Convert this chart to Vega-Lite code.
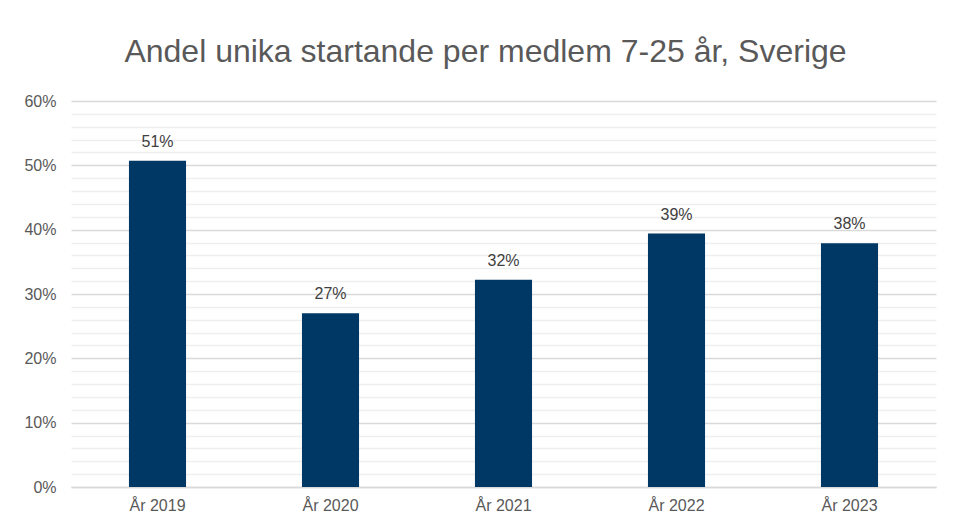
{
  "$schema": "https://vega.github.io/schema/vega-lite/v6.json",
  "width": 865,
  "height": 386,
  "autosize": {"type": "none"},
  "padding": {"left": 71, "top": 101, "right": 19, "bottom": 38},
  "background": "white",
  "config": {"view": {"stroke": null}, "font": "Liberation Sans"},
  "title": {
    "text": "Andel unika startande per medlem 7-25 år, Sverige",
    "fontSize": 32,
    "font": "Liberation Sans",
    "fontWeight": "normal",
    "color": "#595959",
    "anchor": "middle",
    "baseline": "alphabetic",
    "dx": -18,
    "offset": -1
  },
  "data": {
    "values": [
      {"year": "År 2019", "value": 0.507},
      {"year": "År 2020", "value": 0.270},
      {"year": "År 2021", "value": 0.322},
      {"year": "År 2022", "value": 0.394},
      {"year": "År 2023", "value": 0.379}
    ]
  },
  "encoding": {
    "x": {
      "field": "year",
      "type": "nominal",
      "sort": null,
      "scale": {"paddingInner": 0.67, "paddingOuter": 0.335},
      "axis": {
        "title": null,
        "labelAngle": 0,
        "labelFontSize": 16,
        "labelColor": "#595959",
        "labelPadding": 10,
        "ticks": false,
        "domain": true,
        "domainColor": "#d9d9d9",
        "domainWidth": 1.5
      }
    }
  },
  "layer": [
    {
      "mark": {"type": "bar", "opacity": 0},
      "encoding": {
        "y": {
          "field": "value",
          "type": "quantitative",
          "scale": {"domain": [0, 0.6]},
          "axis": {
            "orient": "left",
            "title": null,
            "values": [0.02, 0.04, 0.06, 0.08, 0.12, 0.14, 0.16, 0.18, 0.22, 0.24, 0.26, 0.28, 0.32, 0.34, 0.36, 0.38, 0.42, 0.44, 0.46, 0.48, 0.52, 0.54, 0.56, 0.58],
            "grid": true,
            "gridColor": "#efefef",
            "gridWidth": 1.5,
            "labels": false,
            "ticks": false,
            "domain": false
          }
        }
      }
    },
    {
      "mark": {"type": "bar", "color": "#003865"},
      "encoding": {
        "y": {
          "field": "value",
          "type": "quantitative",
          "scale": {"domain": [0, 0.6]},
          "axis": {
            "orient": "left",
            "title": null,
            "values": [0, 0.1, 0.2, 0.3, 0.4, 0.5, 0.6],
            "format": ".0%",
            "grid": true,
            "gridColor": "#d9d9d9",
            "gridWidth": 1.5,
            "labelFontSize": 16,
            "labelColor": "#595959",
            "labelPadding": 15,
            "ticks": false,
            "domain": false
          }
        }
      }
    },
    {
      "mark": {"type": "text", "fontSize": 16, "color": "#404040", "baseline": "alphabetic", "dy": -14},
      "encoding": {
        "y": {"field": "value", "type": "quantitative", "scale": {"domain": [0, 0.6]}, "axis": null},
        "text": {"field": "value", "type": "quantitative", "format": ".0%"}
      }
    }
  ],
  "resolve": {"axis": {"y": "independent"}}
}
